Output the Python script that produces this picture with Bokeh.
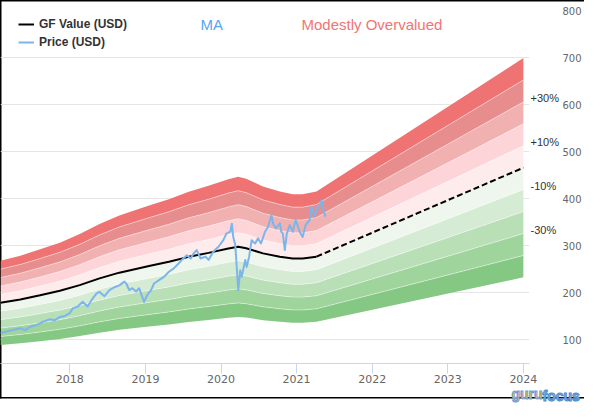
from bokeh.plotting import figure
from bokeh.models import (Range1d, FixedTicker, Legend, LegendItem, Label,
                          LinearAxis, PrintfTickFormatter, Title)
from bokeh.embed import file_html
from bokeh.resources import INLINE

# ---------------- data ----------------
ticker_name = "MA"
valuation_text = "Modestly Overvalued"
logo_parts = ["guru", "focus"]

gf_years = [2017.083, 2017.345, 2017.607, 2017.869, 2018.131, 2018.393, 2018.655,
            2019.048, 2019.311, 2019.573, 2019.835, 2020.097, 2020.228, 2020.333,
            2020.556, 2020.778, 2020.949, 2021.080, 2021.263]
gf_values = [179, 186, 195, 204.5, 216.6, 230.8, 243, 257, 266, 276.6, 285, 294.4,
             298, 295, 284, 277, 273, 273, 277]

proj_years = [2021.263, 2024.0]
proj_values = [277, 466]

price_years = [2017.083, 2017.214, 2017.345, 2017.410, 2017.476, 2017.567, 2017.646,
               2017.738, 2017.803, 2017.869, 2017.934, 2018.000, 2018.039, 2018.105,
               2018.170, 2018.236, 2018.301, 2018.354, 2018.393, 2018.459, 2018.524,
               2018.590, 2018.655, 2018.721, 2018.747, 2018.786, 2018.826, 2018.878,
               2018.917, 2018.957, 2018.983, 2019.022, 2019.075, 2019.114, 2019.180,
               2019.245, 2019.311, 2019.376, 2019.442, 2019.481, 2019.547, 2019.599,
               2019.638, 2019.678, 2019.730, 2019.796, 2019.835, 2019.900, 2019.966,
               2020.031, 2020.071, 2020.123, 2020.143, 2020.162, 2020.189, 2020.208,
               2020.228, 2020.254, 2020.274, 2020.320, 2020.339, 2020.372, 2020.405,
               2020.451, 2020.490, 2020.529, 2020.582, 2020.621, 2020.667, 2020.687,
               2020.726, 2020.778, 2020.798, 2020.818, 2020.844, 2020.870, 2020.910,
               2020.949, 2020.988, 2021.041, 2021.080, 2021.119, 2021.172, 2021.198,
               2021.237, 2021.263, 2021.303, 2021.329, 2021.355, 2021.381]
price_values = [115, 120, 125, 121, 128, 132, 139, 144, 142, 149,
                151, 157, 167, 171, 181, 171, 188, 199, 202, 193,
                206, 212, 216, 224, 220, 206, 210, 203, 210, 192,
                181, 195, 206, 220, 227, 234, 245, 252, 263, 270,
                280, 273, 284, 291, 273, 277, 270, 288, 298, 312,
                326, 330, 347, 319, 302, 255, 206, 248, 234, 270,
                255, 277, 312, 305, 316, 305, 330, 340, 365, 348,
                337, 348, 330, 326, 291, 326, 344, 330, 355, 330,
                319, 344, 355, 383, 362, 376, 386, 397, 376, 362]

band_multipliers = [0.5, 0.6, 0.7, 0.8, 0.9, 1.0, 1.1, 1.2, 1.3, 1.4, 1.5]
band_colors = ["#85c883", "#9fd49c", "#b9dfb7", "#d5ebd3", "#eef6ed",
               "#feeced", "#fdd5d9", "#f2b1b1", "#e88d8d", "#f07373"]
band_labels = ["-30%", "-10%", "+10%", "+30%"]
band_label_levels = [0.7, 0.9, 1.1, 1.3]

x_ticks = [2017, 2018, 2019, 2020, 2021, 2022, 2023, 2024]
y_ticks = [100, 200, 300, 400, 500, 600, 700, 800]

# ---------------- figure ----------------
p = figure(width=584, height=404, x_range=Range1d(2017.083, 2024.081),
           y_range=Range1d(50, 800), y_axis_location="right",
           output_backend="svg", toolbar_location=None,
           min_border_left=0, min_border_top=10, min_border_bottom=41,
           min_border_right=50)
p.outline_line_color = None
p.background_fill_color = None
p.border_fill_color = None

all_years = gf_years + proj_years[1:]
all_values = gf_values + proj_values[1:]

for i in range(len(band_colors)):
    lo = [v * band_multipliers[i] for v in all_values]
    hi = [v * band_multipliers[i + 1] for v in all_values]
    p.varea(x=all_years, y1=lo, y2=hi, fill_color=band_colors[i])
for m in band_multipliers[1:-1]:
    if m != 1.0:
        p.line(all_years, [v * m for v in all_values], line_color="white",
               line_alpha=0.55, line_width=0.8)

gf_r = p.line(gf_years, gf_values, line_color="black", line_width=2)
p.line(proj_years, proj_values, line_color="black", line_width=2,
       line_dash="6 3")
price_r = p.line(price_years, price_values, line_color="#7cb5ec", line_width=2,
                 line_join="round")

# x axis
xa = p.xaxis[0]
xa.ticker = FixedTicker(ticks=x_ticks)
xa.formatter = PrintfTickFormatter(format="%d")
xa.axis_line_color = "#ccd6eb"
xa.major_tick_line_color = "#ccd6eb"
xa.major_tick_out = 10
xa.major_tick_in = 0
xa.minor_tick_line_color = None
xa.major_label_standoff = 1
xa.major_label_text_font = "DejaVu Sans"
xa.major_label_text_font_size = "11px"
xa.major_label_text_color = "#666666"

# value axis (outer right)
ya = p.yaxis[0]
ya.ticker = FixedTicker(ticks=y_ticks)
ya.axis_line_color = None
ya.major_tick_line_color = None
ya.major_tick_out = 0
ya.major_tick_in = 0
ya.minor_tick_line_color = None
ya.major_label_standoff = 1
ya.major_label_text_font = "DejaVu Sans"
ya.major_label_text_font_size = "10px"
ya.major_label_text_color = "#666666"

# band label axis (inner right), labels sit slightly above each band edge
label_lift = 8.5
pct_ticks = [round(proj_values[-1] * lev + label_lift, 1) for lev in band_label_levels]
pct_axis = LinearAxis(ticker=FixedTicker(ticks=pct_ticks),
                      major_label_overrides={t: s for t, s in zip(pct_ticks, band_labels)},
                      axis_line_color=None, major_tick_line_color=None,
                      minor_tick_line_color=None, major_tick_out=0, major_tick_in=0,
                      major_label_standoff=1, major_label_text_font="Liberation Sans",
                      major_label_text_font_size="11px",
                      major_label_text_color="#333333")
p.right = [pct_axis] + list(p.right)

p.xgrid.visible = False
p.ygrid.ticker = FixedTicker(ticks=y_ticks)
p.ygrid.grid_line_color = "#e6e6e6"

# legend
legend = Legend(items=[LegendItem(label="GF Value (USD)", renderers=[gf_r]),
                       LegendItem(label="Price (USD)", renderers=[price_r])],
                location=(18, 314), padding=0, margin=0, spacing=4,
                glyph_width=16, glyph_height=14, label_height=14,
                label_standoff=5, label_text_font="Liberation Sans",
                label_text_font_style="bold", label_text_font_size="12px",
                label_text_color="#333333", background_fill_alpha=0,
                border_line_color=None)
p.add_layout(legend)

# titles
p.add_layout(Label(x=200, y=339, x_units="screen", y_units="screen",
                   text=ticker_name, text_font="Liberation Sans",
                   text_font_size="15px", text_color="#5aa5f0",
                   text_baseline="middle"))
p.add_layout(Label(x=301, y=339, x_units="screen", y_units="screen",
                   text=valuation_text, text_font="Liberation Sans",
                   text_font_size="15px", text_color="#f27474",
                   text_baseline="middle"))

# logo (two side-panel titles sharing one row)
logo_guru = Title(text=logo_parts[0], align="left", offset=511, standoff=0,
                  vertical_align="top", text_font="Liberation Sans",
                  text_font_style="bold", text_font_size="14px",
                  text_color="#f2b630", text_outline_color="#6a9fd8")
logo_focus = Title(text=logo_parts[1], align="left", offset=542, standoff=-31.5,
                   vertical_align="top", text_font="Liberation Sans",
                   text_font_style="bold", text_font_size="14px",
                   text_color="#7fb6ea", text_outline_color="#4f89cc")
p.add_layout(logo_guru, "below")
p.add_layout(logo_focus, "below")

# outer frame lines (left, top, bottom) drawn behind the transparent canvas
p.styles = {
    "background": ("linear-gradient(#000,#000) 0 0/1.5px 398.5px no-repeat, "
                   "linear-gradient(#000,#000) 0 0/100% 1.5px no-repeat, "
                   "linear-gradient(#000,#000) 0 397px/100% 1.5px no-repeat, #fff"),
}

open("out.html", "w").write(file_html(p, INLINE))
